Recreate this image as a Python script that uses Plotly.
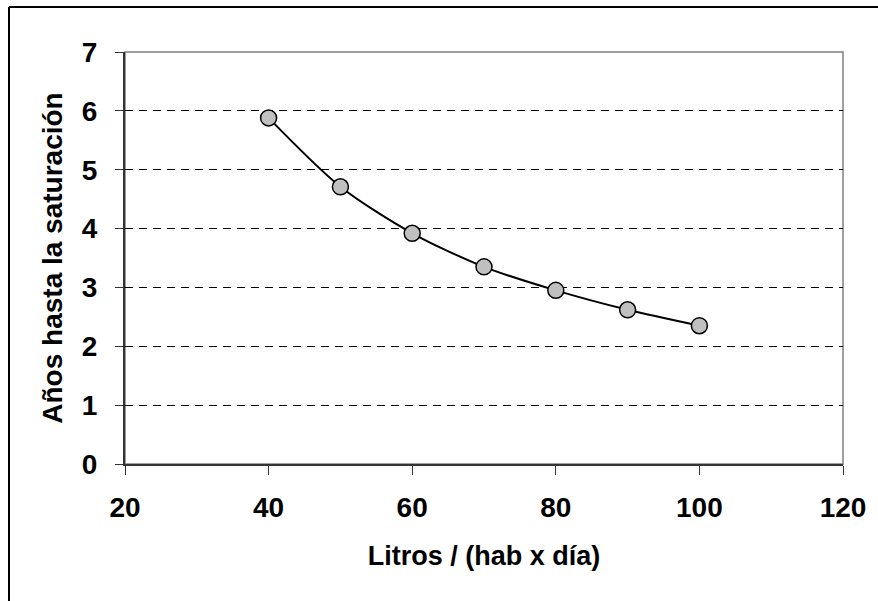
import plotly.graph_objects as go

litros = [40, 50, 60, 70, 80, 90, 100]
anios = [5.88, 4.71, 3.92, 3.35, 2.95, 2.62, 2.35]

x_ticks = [20, 40, 60, 80, 100, 120]
y_ticks = [0, 1, 2, 3, 4, 5, 6, 7]

FONT = "Liberation Sans, Arial, sans-serif"

fig = go.Figure()
fig.add_trace(go.Scatter(
    x=litros, y=anios,
    mode="lines+markers",
    line=dict(color="black", width=2, shape="spline", smoothing=0.8),
    marker=dict(size=16, color="#C0C0C0", line=dict(color="black", width=1.5)),
    showlegend=False,
))

L, R, T, B = 125, 35, 52, 137
W, H = 878, 601
pw, ph = W - L - R, H - T - B

# plot-area border (gray)
fig.add_shape(type="rect", xref="paper", yref="paper", x0=0, y0=0, x1=1, y1=1,
              line=dict(color="#808080", width=1.5), layer="below")
# outer figure border: only its left and top edges fall inside the picture
bx0 = (9 - L) / pw
by1 = (H - B - 7) / ph
fig.add_shape(type="line", xref="paper", yref="paper",
              x0=bx0, x1=(W - L) / pw, y0=by1, y1=by1,
              line=dict(color="black", width=2), layer="below")
fig.add_shape(type="line", xref="paper", yref="paper",
              x0=bx0, x1=bx0, y0=by1, y1=-(H - (H - B)) / ph,
              line=dict(color="black", width=2), layer="below")

fig.update_layout(
    width=W, height=H,
    margin=dict(l=L, r=R, t=T, b=B),
    paper_bgcolor="white", plot_bgcolor="white",
    font=dict(family=FONT, color="black"),
    xaxis=dict(
        range=[20, 120], tickvals=x_ticks, ticktext=[str(v) for v in x_ticks],
        showgrid=False, zeroline=False,
        showline=True, linecolor="#333333", linewidth=2,
        ticks="outside", ticklen=9, tickwidth=1, tickcolor="#333333",
        tickfont=dict(size=28, family=FONT, weight="bold"),
        ticklabelstandoff=8,
        title=dict(text="<b>Litros / (hab x día)</b>", font=dict(size=27, family=FONT), standoff=25),
    ),
    yaxis=dict(
        range=[0, 7], tickvals=y_ticks, ticktext=[str(v) for v in y_ticks],
        showgrid=True, gridcolor="black", gridwidth=1, griddash="8px,6px",
        zeroline=False,
        showline=True, linecolor="#333333", linewidth=2,
        ticks="outside", ticklen=8, tickwidth=1, tickcolor="#333333",
        tickfont=dict(size=28, family=FONT, weight="bold"),
        ticklabelstandoff=12,
        title=dict(text="<b>Años hasta la saturación</b>", font=dict(size=28, family=FONT), standoff=11),
    ),
)

fig.write_html("out.html")
